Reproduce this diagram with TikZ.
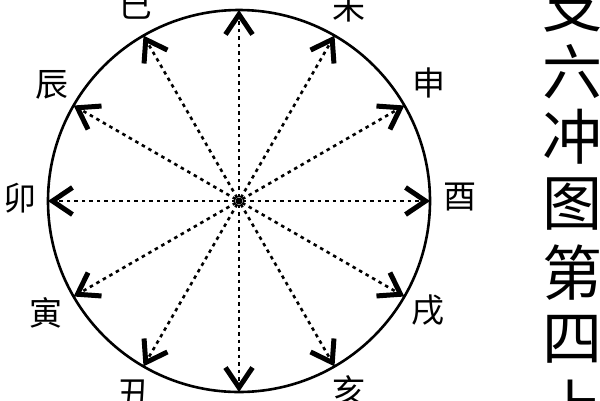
\documentclass[tikz,border=0pt]{standalone}
\usepackage{fontspec}
\newfontfamily\cjk{Noto Sans CJK SC}
\usetikzlibrary{arrows.meta}
\begin{document}
\begin{tikzpicture}[x=1pt,y=-1pt,
  rim/.style={circle, draw, line width=2.6pt, minimum size=382pt, inner sep=0pt, outer sep=0pt},
  ray/.style={line width=2.6pt, dash pattern=on 3.5pt off 4pt, -{Straight Barb[length=20pt,width=27pt,line width=5pt]}},
  lab/.style={font=\cjk\fontsize{33}{33}\selectfont, inner sep=0pt},
  ttl/.style={font=\cjk\fontsize{60}{60}\selectfont, inner sep=0pt}]
\useasboundingbox (0,0) rectangle (600,400);
\node[rim] (rimc) at (239,201) {};
\node[circle, fill, inner sep=0pt, minimum size=7pt] (c) at (239,201) {};
\foreach \a in {0,30,...,330} \draw[ray] (c) -- (rimc.\a);
\node[lab] (si) at (136,6) {巳};
\node[lab] (wei) at (349,7) {未};
\node[lab] (shen) at (429,83) {申};
\node[lab] (you) at (460,197) {酉};
\node[lab] (xu) at (428,310) {戌};
\node[lab] (hai) at (349,391) {亥};
\node[lab] (chou) at (134,394) {丑};
\node[lab] (yin) at (46,313) {寅};
\node[lab] (mao) at (20,198) {卯};
\node[lab] (chen) at (52,85) {辰};
\foreach \t/\y [count=\i] in {支/5,六/72,冲/137,图/204,第/273,四/339,上/406}
  \node[ttl] (t\i) at (572,\y) {\t};
\end{tikzpicture}
\end{document}
